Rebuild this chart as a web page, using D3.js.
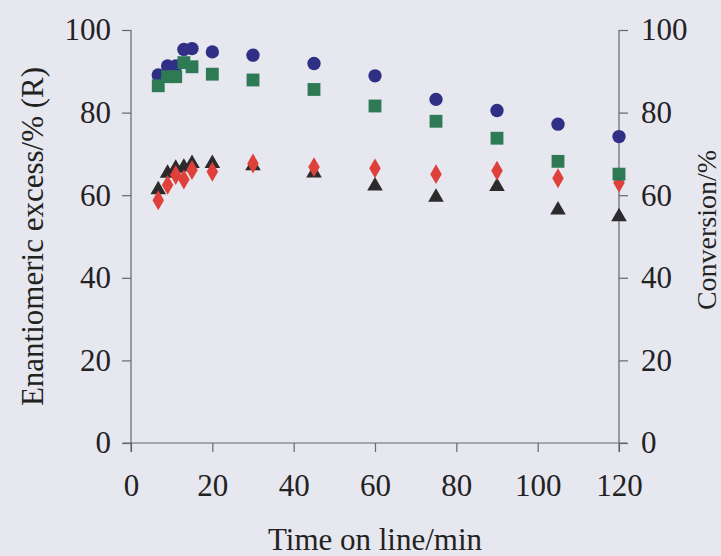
<!DOCTYPE html>
<html><head><meta charset="utf-8">
<script src="https://cdn.jsdelivr.net/npm/d3@7"></script>
<style>
html,body{margin:0;padding:0;background:#e7e7ef;}
svg{display:block;}
text{font-family:"Liberation Serif","Times New Roman",serif;fill:#222;}
</style></head>
<body>
<svg id="chart" width="721" height="556"></svg>
<script>
// Data (time on line / min)
const times = [6.7, 9, 11, 13, 15, 20, 30, 45, 60, 75, 90, 105, 120];
const eeCircle   = [89.1, 91.3, 91.3, 95.3, 95.5, 94.7, 93.9, 91.9, 88.9, 83.2, 80.5, 77.2, 74.2];
const convSquare = [86.5, 88.7, 88.7, 92.1, 91.1, 89.3, 87.9, 85.6, 81.6, 77.9, 73.8, 68.2, 65.1];
const eeDiamond  = [58.8, 62.5, 64.9, 63.8, 66.1, 65.7, 67.7, 66.8, 66.5, 65.1, 65.9, 64.1, 63.0];
const convTri    = [61.3, 65.3, 66.5, 66.8, 67.7, 67.7, 67.1, 65.4, 62.2, 59.5, 62.1, 56.4, 54.8];
const xTicks = [0, 20, 40, 60, 80, 100, 120];
const yTicks = [0, 20, 40, 60, 80, 100];

const svg = d3.select("#chart");
const L = 131, R = 619, T = 30, B = 443;
const x = d3.scaleLinear().domain([0, 120]).range([L, R]);
const yL = d3.scaleLinear().domain([0, 100]).range([B, T]);
const yR = d3.scaleLinear().domain([0, 100]).range([B, T]);

const axisColor = "#66666c";
function styleAxis(g){
  g.selectAll("path,line").attr("stroke", axisColor).attr("stroke-width", 1.2);
  g.selectAll("text").style("font-size", "31px").attr("fill", "#222");
}
// X axis
svg.append("g").attr("transform", `translate(0,${B})`)
  .call(d3.axisBottom(x).tickValues(xTicks).tickSize(9).tickSizeOuter(0).tickPadding(22))
  .call(styleAxis)
  .call(g => g.select(".domain").attr("d", `M${L-8},0H${R+8}`));
// Left axis
svg.append("g").attr("transform", `translate(${L},0)`)
  .call(d3.axisLeft(yL).tickValues(yTicks).tickSize(9).tickSizeOuter(0).tickPadding(11))
  .call(styleAxis)
  .call(g => g.select(".domain").attr("d", `M0,${T}V${B+9}`));
// Right axis
svg.append("g").attr("transform", `translate(${R},0)`)
  .call(d3.axisRight(yR).tickValues(yTicks).tickSize(9).tickSizeOuter(0).tickPadding(13))
  .call(styleAxis)
  .call(g => g.select(".domain").attr("d", `M0,${T}V${B+9}`));

// Titles
svg.append("text").attr("x", x(60)).attr("y", 550).attr("text-anchor", "middle")
  .style("font-size", "31px").text("Time on line/min");
svg.append("text").attr("transform", `translate(43,${(T+B)/2}) rotate(-90)`)
  .attr("text-anchor", "middle").style("font-size", "31px").text("Enantiomeric excess/% (R)");
svg.append("text").attr("transform", `translate(716,230) rotate(-90)`)
  .attr("text-anchor", "middle").style("font-size", "28px").text("Conversion/%");

// Markers
const sym = (type, size) => d3.symbol().type(type).size(size);
const pts = (vals) => times.map((t, i) => [t, vals[i]]);
svg.append("g").selectAll("path").data(pts(eeCircle)).join("path")
  .attr("transform", d => `translate(${x(d[0])},${yL(d[1])})`)
  .attr("d", sym(d3.symbolCircle, 140)).attr("fill", "#2f2f86");
svg.append("g").selectAll("path").data(pts(convTri)).join("path")
  .attr("transform", d => `translate(${x(d[0])},${yR(d[1])})`)
  .attr("d", sym(d3.symbolTriangle, 105)).attr("fill", "#2c2a2c");
svg.append("g").selectAll("path").data(pts(eeDiamond)).join("path")
  .attr("transform", d => `translate(${x(d[0])},${yL(d[1])})`)
  .attr("d", sym(d3.symbolDiamond, 115)).attr("fill", "#e0403a");
svg.append("g").selectAll("path").data(pts(convSquare)).join("path")
  .attr("transform", d => `translate(${x(d[0])},${yR(d[1])})`)
  .attr("d", sym(d3.symbolSquare, 165)).attr("fill", "#2e7a55");
</script>
</body></html>
